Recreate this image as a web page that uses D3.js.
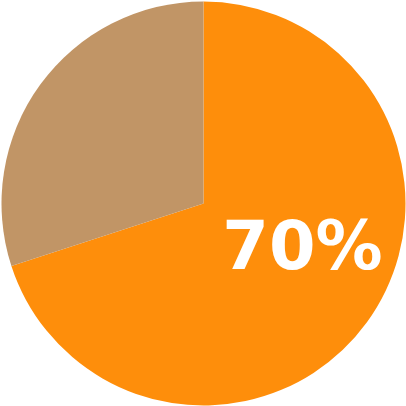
<!DOCTYPE html>
<html>
<head>
<meta charset="utf-8">
<script src="https://cdn.jsdelivr.net/npm/d3@7"></script>
<style>
  html, body { margin: 0; padding: 0; background: #fff; }
  svg { display: block; }
</style>
</head>
<body>
<div id="chart"></div>
<script>
// data
var categories = ['yes', 'no'];
var values = [70, 30];
var colors = ['#FE8E0B', '#C19566'];
var labelText = '70%';

var width = 406, height = 406, radius = 202;

var svg = d3.select('#chart').append('svg')
    .attr('width', width)
    .attr('height', height);

var g = svg.append('g')
    .attr('transform', 'translate(' + 203.5 + ',' + 203.5 + ')');

var pie = d3.pie().sort(null).value(function (d) { return d; });
var arc = d3.arc().innerRadius(0).outerRadius(radius);

var color = d3.scaleOrdinal().domain(categories).range(colors);

g.selectAll('path.slice')
    .data(pie(values))
    .enter()
    .append('path')
    .attr('class', 'slice')
    .attr('d', arc)
    .attr('fill', function (d, i) { return color(categories[i]); });

// big label inside the main slice
g.append('text')
    .attr('x', 99)
    .attr('y', 65)
    .attr('text-anchor', 'middle')
    .attr('fill', '#fff')
    .style('font-family', '"DejaVu Sans", sans-serif')
    .style('font-weight', 'bold')
    .style('font-size', '67px')
    .text(labelText);
</script>
</body>
</html>
